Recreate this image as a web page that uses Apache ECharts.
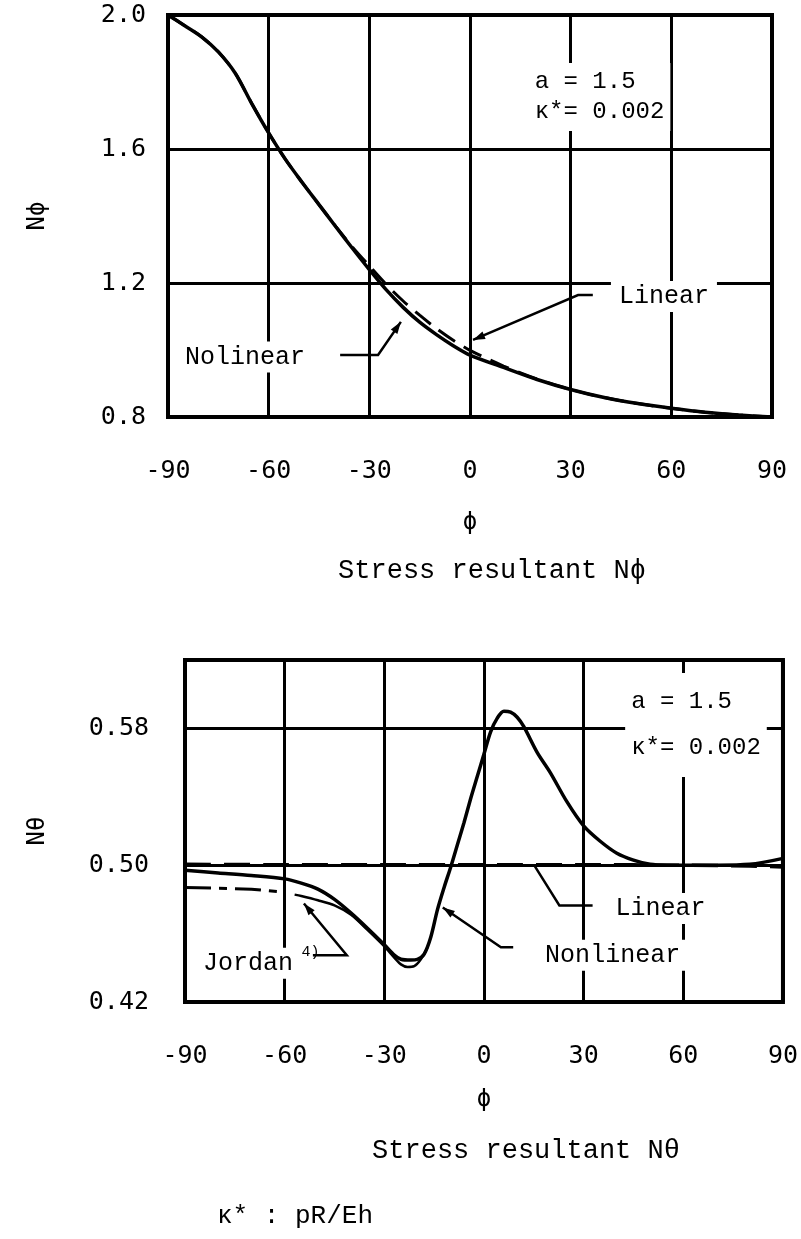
<!DOCTYPE html>
<html>
<head>
<meta charset="utf-8">
<script src="https://cdn.jsdelivr.net/npm/echarts/dist/echarts.min.js"></script>
<style>
html, body { margin: 0; padding: 0; background: #fff; }
#main { width: 801px; height: 1239px; }
</style>
</head>
<body>
<div id="main"></div>
<script>
// upper panel: N-phi
var phiTop = [-90, -85, -80, -75, -70, -65, -60, -55, -50, -45, -40, -35, -30, -25, -20, -15, -10, -5, 0, 10, 20, 30, 40, 50, 60, 70, 80, 90];
var nonlinTop = [2.0, 1.968, 1.935, 1.89, 1.827, 1.735, 1.648, 1.569, 1.5, 1.434, 1.368, 1.303, 1.24, 1.18, 1.128, 1.083, 1.046, 1.013, 0.985, 0.948, 0.912, 0.882, 0.858, 0.84, 0.826, 0.814, 0.806, 0.80];
var linTop = [2.0, 1.968, 1.935, 1.89, 1.827, 1.735, 1.648, 1.569, 1.5, 1.434, 1.369, 1.307, 1.251, 1.196, 1.147, 1.104, 1.064, 1.029, 0.999, 0.952, 0.913, 0.882, 0.858, 0.84, 0.826, 0.814, 0.806, 0.80];
var yTicksTop = [0.8, 1.2, 1.6, 2.0];

// lower panel: N-theta
var phiBot = [-90, -80, -70, -60, -55, -50, -45, -40, -35, -30, -27, -25, -22, -20, -18, -16, -14, -12, -10, -8, -6, -4, -2, 0, 2, 4, 6, 8, 10, 12, 16, 20, 25, 30, 35, 40, 45, 50, 55, 60, 70, 80, 90];
var nonlinBot = [0.497, 0.4955, 0.494, 0.492, 0.4895, 0.486, 0.480, 0.472, 0.463, 0.4535, 0.4475, 0.445, 0.4445, 0.445, 0.448, 0.458, 0.474, 0.487, 0.499, 0.512, 0.525, 0.539, 0.552, 0.565, 0.578, 0.586, 0.590, 0.5895, 0.5865, 0.581, 0.566, 0.554, 0.537, 0.523, 0.514, 0.507, 0.503, 0.5005, 0.500, 0.500, 0.500, 0.5005, 0.504];
var phiBotLin = [-90, -60, -30, 0, 30, 60, 80, 90];
var linBot = [0.5005, 0.5003, 0.5003, 0.5003, 0.5003, 0.5, 0.4995, 0.499];
var phiJordanDash = [-90, -80, -70, -62];
var jordanDash = [0.487, 0.4865, 0.486, 0.4845];
var phiJordan = [-57, -55, -50, -45, -40, -35, -30, -27, -25, -23, -21, -19, -17];
var jordan = [0.4828, 0.482, 0.4795, 0.4765, 0.471, 0.462, 0.4525, 0.446, 0.442, 0.4405, 0.441, 0.445, 0.452];
var yTicksBot = [0.42, 0.50, 0.58];

var xTicks = [-90, -60, -30, 0, 30, 60, 90];

function pairs(xs, ys) {
    return xs.map(function (x, i) { return [x, ys[i]]; });
}

var monoFont = '"Liberation Mono", "DejaVu Sans Mono", monospace';
var tickFont = '"DejaVu Sans Mono", monospace';

function xAxisFor(g) {
    return {
        type: 'value', gridIndex: g,
        min: xTicks[0], max: xTicks[xTicks.length - 1], interval: xTicks[1] - xTicks[0],
        axisLine: { show: false }, axisTick: { show: false },
        axisLabel: { color: '#000', fontFamily: tickFont, fontSize: 25, margin: 42 },
        splitLine: { show: true, lineStyle: { color: '#000', width: 3 } }
    };
}

function yAxisFor(g, ticks, digits, name, gap, labelMargin, max) {
    return {
        type: 'value', gridIndex: g,
        min: ticks[0], max: max, interval: ticks[1] - ticks[0],
        name: name, nameLocation: 'middle', nameRotate: 90, nameGap: gap,
        nameTextStyle: { color: '#000', fontFamily: tickFont, fontSize: 24 },
        axisLine: { show: false }, axisTick: { show: false },
        axisLabel: {
            color: '#000', fontFamily: tickFont, fontSize: 25, margin: labelMargin,
            showMaxLabel: ticks[ticks.length - 1] === max,
            formatter: function (v) { return v.toFixed(digits); }
        },
        splitLine: { show: true, lineStyle: { color: '#000', width: 3 } }
    };
}

var option = {
    animation: false,
    backgroundColor: '#fff',
    grid: [
        { left: 168, top: 15, width: 604, height: 402, show: true, borderColor: '#000', borderWidth: 4, backgroundColor: 'transparent' },
        { left: 185, top: 660, width: 603, height: 342, show: true, borderColor: '#000', borderWidth: 4, backgroundColor: 'transparent' }
    ],
    xAxis: [xAxisFor(0), xAxisFor(1)],
    yAxis: [
        yAxisFor(0, yTicksTop, 1, 'Nϕ', 118, 22, 2.0),
        yAxisFor(1, yTicksBot, 2, 'Nθ', 135, 36, 0.62)
    ],
    series: [
        {
            name: 'Nonlinear', type: 'line', xAxisIndex: 0, yAxisIndex: 0,
            data: pairs(phiTop, nonlinTop), showSymbol: false, smooth: 0.3,
            lineStyle: { color: '#000', width: 3.5 }, z: 5
        },
        {
            name: 'Linear', type: 'line', xAxisIndex: 0, yAxisIndex: 0,
            data: pairs(phiTop, linTop), showSymbol: false, smooth: 0.3,
            lineStyle: { color: '#000', width: 3, type: [20, 10] }, z: 5
        },
        {
            name: 'Linear', type: 'line', xAxisIndex: 1, yAxisIndex: 1,
            data: pairs(phiBotLin, linBot), showSymbol: false, smooth: 0.3,
            lineStyle: { color: '#000', width: 3.5, type: [26, 13] }, z: 5
        },
        {
            name: 'Nonlinear', type: 'line', xAxisIndex: 1, yAxisIndex: 1,
            data: pairs(phiBot, nonlinBot), showSymbol: false, smooth: 0.3,
            lineStyle: { color: '#000', width: 3.5 }, z: 5
        },
        {
            name: 'Jordan', type: 'line', xAxisIndex: 1, yAxisIndex: 1,
            data: pairs(phiJordanDash, jordanDash), showSymbol: false,
            lineStyle: { color: '#000', width: 3, type: [26, 8, 8, 8] }, z: 5
        },
        {
            name: 'Jordan', type: 'line', xAxisIndex: 1, yAxisIndex: 1,
            data: pairs(phiJordan, jordan), showSymbol: false, smooth: 0.3,
            lineStyle: { color: '#000', width: 2.5 }, z: 5
        }
    ]
};

var chart = echarts.init(document.getElementById('main'));
chart.setOption(option);

function px(g, p) {
    return chart.convertToPixel({ gridIndex: g }, p);
}

function label(g, p, text, size, opts) {
    var q = px(g, p);
    opts = opts || {};
    return {
        type: 'text', x: q[0], y: q[1], z: 100,
        style: {
            text: text, fill: '#000',
            fontFamily: opts.font || monoFont, fontSize: size,
            align: opts.align || 'left', verticalAlign: 'middle',
            lineHeight: opts.lineHeight,
            backgroundColor: opts.bg === false ? null : '#fff',
            padding: opts.padding || [3, 6]
        }
    };
}

function leader(g, pts, arrow) {
    var p = pts.map(function (d) { return px(g, d); });
    var items = [{
        type: 'polyline', z: 101,
        shape: { points: p },
        style: { stroke: '#000', lineWidth: 2.5, fill: null }
    }];
    if (arrow) {
        var a = p[p.length - 2], b = p[p.length - 1];
        var dx = b[0] - a[0], dy = b[1] - a[1];
        var len = Math.sqrt(dx * dx + dy * dy);
        var ux = dx / len, uy = dy / len;
        var L = 12, W = 4;
        items.push({
            type: 'polygon', z: 101,
            shape: {
                points: [
                    [b[0], b[1]],
                    [b[0] - ux * L - uy * W, b[1] - uy * L + ux * W],
                    [b[0] - ux * L + uy * W, b[1] - uy * L - ux * W]
                ]
            },
            style: { fill: '#000' }
        });
    }
    return items;
}

var x0top = px(0, [0, 0.8])[0];
var x0bot = px(1, [0, 0.42])[0];

var graphics = [];
graphics.push(label(0, [17.5, 1.755], 'a = 1.5\nκ*= 0.002', 24, { lineHeight: 30, padding: [4, 6] }));
graphics.push(label(0, [42, 1.16], 'Linear', 25, { padding: [3, 8] }));
graphics = graphics.concat(leader(0, [[36.6, 1.164], [32.2, 1.164], [0.9, 1.03]], true));
graphics.push(label(0, [-86.7, 0.979], 'Nolinear', 25, { padding: [3, 6] }));
graphics = graphics.concat(leader(0, [[-38.7, 0.985], [-27.4, 0.985], [-20.6, 1.084]], true));

graphics.push(label(1, [42.5, 0.582], 'a = 1.5\nκ*= 0.002', 24, { lineHeight: 46, padding: [6, 6] }));
graphics.push(label(1, [37.8, 0.4747], 'Linear', 25, { padding: [3, 6] }));
graphics = graphics.concat(leader(1, [[32.7, 0.4765], [22.7, 0.4765], [15.1, 0.5]], false));
graphics.push(label(1, [16.6, 0.4474], 'Nonlinear', 25, { padding: [3, 6] }));
graphics = graphics.concat(leader(1, [[8.8, 0.452], [5.1, 0.452], [-12.4, 0.4753]], true));
graphics.push(label(1, [-85.8, 0.4427], 'Jordan', 25, { padding: [3, 4] }));
graphics.push(label(1, [-55.2, 0.4495], '4)', 15, { padding: [0, 1] }));
graphics = graphics.concat(leader(1, [[-51.5, 0.4474], [-41.3, 0.4474], [-54.2, 0.4776]], true));

// axis titles under each panel
graphics.push({ type: 'text', x: x0top, y: 523, z: 100,
    style: { text: 'ϕ', fontFamily: tickFont, fontSize: 24, fill: '#000', align: 'center', verticalAlign: 'middle' } });
graphics.push({ type: 'text', x: 492, y: 571, z: 100,
    style: { text: 'Stress resultant Nϕ', fontFamily: monoFont, fontSize: 27, fill: '#000', align: 'center', verticalAlign: 'middle' } });
graphics.push({ type: 'text', x: x0bot, y: 1100, z: 100,
    style: { text: 'ϕ', fontFamily: tickFont, fontSize: 24, fill: '#000', align: 'center', verticalAlign: 'middle' } });
graphics.push({ type: 'text', x: 526, y: 1151, z: 100,
    style: { text: 'Stress resultant Nθ', fontFamily: monoFont, fontSize: 27, fill: '#000', align: 'center', verticalAlign: 'middle' } });
graphics.push({ type: 'text', x: 217, y: 1216, z: 100,
    style: { text: 'κ* : pR/Eh', fontFamily: monoFont, fontSize: 26, fill: '#000', align: 'left', verticalAlign: 'middle' } });

chart.setOption({ graphic: graphics });
</script>
</body>
</html>
